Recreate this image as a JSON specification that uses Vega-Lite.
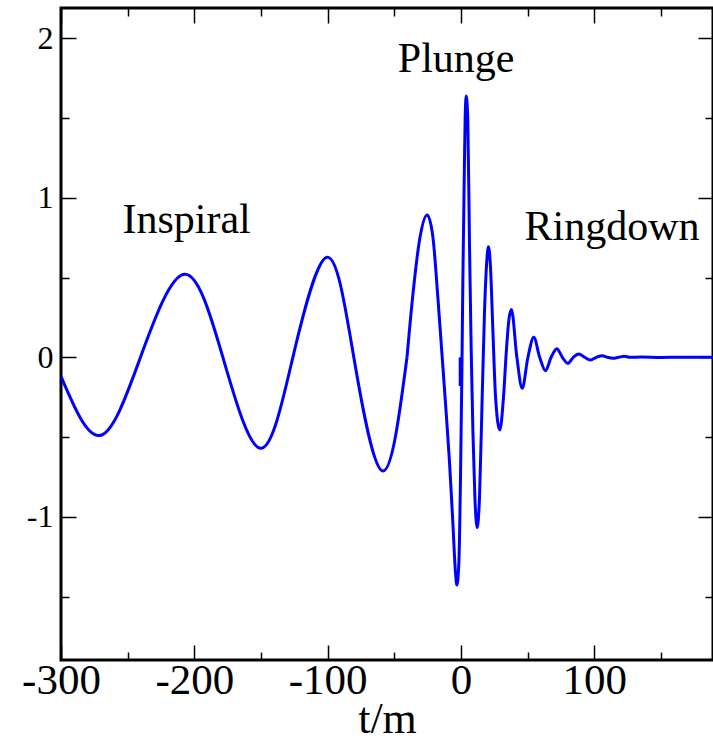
{
  "$schema": "https://vega.github.io/schema/vega-lite/v6.json",
  "width": 652,
  "height": 652,
  "autosize": {"type": "none"},
  "padding": {"left": 61, "top": 8, "right": 0, "bottom": 78},
  "background": "white",
  "config": {
    "view": {"stroke": "black", "strokeWidth": 3},
    "axis": {
      "grid": false,
      "domain": false,
      "tickColor": "black",
      "tickWidth": 1.5,
      "labelFont": "Liberation Serif",
      "labelColor": "black",
      "titleFont": "Liberation Serif",
      "titleColor": "black",
      "titleFontWeight": "normal"
    }
  },
  "resolve": {"axis": {"x": "independent", "y": "independent"}},
  "layer": [
    {
      "data": {"values": [
        {"t": -300, "h": -0.12}, {"t": -270.6, "h": -0.49}, {"t": -240.4, "h": 0}, {"t": -207.4, "h": 0.52},
        {"t": -178.6, "h": 0}, {"t": -150.4, "h": -0.571}, {"t": -126.1, "h": 0}, {"t": -100.4, "h": 0.627},
        {"t": -80.4, "h": 0}, {"t": -58.6, "h": -0.713}, {"t": -40.5, "h": 0}
      ]},
      "mark": {"type": "line", "color": "#0000ff", "strokeWidth": 3, "interpolate": "natural", "clip": true},
      "encoding": {
        "x": {"field": "t", "type": "quantitative",
          "scale": {"domain": [-300, 189], "nice": false, "zero": false},
          "axis": {"orient": "bottom", "values": [-300, -200, -100, 0, 100], "tickSize": -15,
            "labelFontSize": 43, "labelPadding": 14, "labelFlush": false,
            "labelExpr": "datum.value < 0 ? '-' + abs(datum.value) : '' + datum.value",
            "title": "t/m", "titleFontSize": 44, "titleBaseline": "alphabetic", "titleY": 72}},
        "y": {"field": "h", "type": "quantitative",
          "scale": {"domain": [-1.898, 2.19], "nice": false, "zero": false},
          "axis": {"orient": "left", "values": [-1, 0, 1, 2], "tickSize": -15,
            "labelFontSize": 32, "labelPadding": 23, "labelFlush": false,
            "labelExpr": "datum.value < 0 ? '-' + abs(datum.value) : '' + datum.value",
            "title": null}}
      }
    },
    {
      "data": {"values": [
        {"t": -40.5, "h": 0},
        {"t": -36, "h": 0.4}, {"t": -31, "h": 0.74}, {"t": -25.4, "h": 0.892}, {"t": -21.1, "h": 0.756},
        {"t": -17.4, "h": 0.38}, {"t": -14.1, "h": 0}, {"t": -11.1, "h": -0.35}, {"t": -8.6, "h": -0.66},
        {"t": -6.1, "h": -1.04}, {"t": -4.1, "h": -1.354}, {"t": -3.1, "h": -1.428}, {"t": -1.6, "h": -1.29},
        {"t": -0.4, "h": -0.77}, {"t": 0.6, "h": -0.14}, {"t": 1.4, "h": 0.485}, {"t": 2.4, "h": 1.11},
        {"t": 3.1, "h": 1.49}, {"t": 3.9, "h": 1.638}, {"t": 5.1, "h": 1.49}, {"t": 6.4, "h": 0.69},
        {"t": 7.6, "h": 0.066}, {"t": 8.9, "h": -0.456}, {"t": 10.4, "h": -0.874}, {"t": 12.1, "h": -1.068},
        {"t": 13.9, "h": -0.874}, {"t": 15.9, "h": -0.247}, {"t": 17.6, "h": 0.276}, {"t": 19.4, "h": 0.61},
        {"t": 20.6, "h": 0.693}, {"t": 22.1, "h": 0.568}, {"t": 23.9, "h": 0.171}, {"t": 25.9, "h": -0.247},
        {"t": 29.1, "h": -0.456}, {"t": 31.9, "h": -0.247}, {"t": 33.9, "h": 0.025}, {"t": 35.9, "h": 0.234},
        {"t": 37.8, "h": 0.3}, {"t": 41.9, "h": 0}, {"t": 45.9, "h": -0.194}, {"t": 50.2, "h": 0},
        {"t": 54.6, "h": 0.125}, {"t": 59, "h": 0}, {"t": 63.4, "h": -0.084}, {"t": 67.6, "h": 0},
        {"t": 71.9, "h": 0.054}, {"t": 76, "h": 0}, {"t": 80.1, "h": -0.038}, {"t": 84.2, "h": 0},
        {"t": 88.4, "h": 0.021}, {"t": 92.7, "h": 0}, {"t": 97.1, "h": -0.017}, {"t": 101.5, "h": 0},
        {"t": 105.9, "h": 0.01}, {"t": 109.9, "h": 0}, {"t": 113.9, "h": -0.006}, {"t": 118.2, "h": 0},
        {"t": 122.6, "h": 0.006}, {"t": 126.5, "h": 0}, {"t": 135, "h": 0.002}, {"t": 150, "h": -0.001},
        {"t": 165, "h": 0.001}, {"t": 189, "h": 0}
      ]},
      "mark": {"type": "line", "color": "#0000ff", "strokeWidth": 3, "interpolate": "monotone", "clip": true},
      "encoding": {
        "x": {"field": "t", "type": "quantitative",
          "scale": {"domain": [-300, 189], "nice": false, "zero": false}, "axis": null},
        "y": {"field": "h", "type": "quantitative",
          "scale": {"domain": [-1.898, 2.19], "nice": false, "zero": false}, "axis": null}
      }
    },
    {
      "data": {"values": [{"t": -0.6, "h": 0}, {"t": -0.6, "h": -0.18}]},
      "mark": {"type": "line", "color": "#0000ff", "strokeWidth": 3, "clip": true},
      "encoding": {
        "x": {"field": "t", "type": "quantitative",
          "scale": {"domain": [-300, 189], "nice": false, "zero": false},
          "axis": {"orient": "bottom", "values": [-250, -150, -50, 50, 150], "tickSize": -8,
            "labels": false, "title": null}},
        "y": {"field": "h", "type": "quantitative",
          "scale": {"domain": [-1.898, 2.19], "nice": false, "zero": false},
          "axis": {"orient": "left", "values": [-1.5, -0.5, 0.5, 1.5], "tickSize": -8,
            "labels": false, "title": null}}
      }
    },
    {
      "data": {"values": [{"t": -253.9, "h": 0.779, "label": "Inspiral"}]},
      "mark": {"type": "text", "align": "left", "baseline": "alphabetic", "font": "Liberation Serif", "fontSize": 42, "color": "black"},
      "encoding": {
        "text": {"field": "label"},
        "x": {"field": "t", "type": "quantitative",
          "scale": {"domain": [-300, 189], "nice": false, "zero": false},
          "axis": {"orient": "top", "values": [-300, -200, -100, 0, 100], "tickSize": -15,
            "labels": false, "title": null}},
        "y": {"field": "h", "type": "quantitative",
          "scale": {"domain": [-1.898, 2.19], "nice": false, "zero": false},
          "axis": {"orient": "right", "values": [-1, 0, 1, 2], "tickSize": -15,
            "labels": false, "title": null}}
      }
    },
    {
      "data": {"values": [{"t": -47.4, "h": 1.79, "label": "Plunge"}]},
      "mark": {"type": "text", "align": "left", "baseline": "alphabetic", "font": "Liberation Serif", "fontSize": 42, "color": "black"},
      "encoding": {
        "text": {"field": "label"},
        "x": {"field": "t", "type": "quantitative",
          "scale": {"domain": [-300, 189], "nice": false, "zero": false},
          "axis": {"orient": "top", "values": [-250, -150, -50, 50, 150], "tickSize": -8,
            "labels": false, "title": null}},
        "y": {"field": "h", "type": "quantitative",
          "scale": {"domain": [-1.898, 2.19], "nice": false, "zero": false},
          "axis": {"orient": "right", "values": [-1.5, -0.5, 0.5, 1.5], "tickSize": -8,
            "labels": false, "title": null}}
      }
    },
    {
      "data": {"values": [{"t": 47.6, "h": 0.735, "label": "Ringdown"}]},
      "mark": {"type": "text", "align": "left", "baseline": "alphabetic", "font": "Liberation Serif", "fontSize": 42, "color": "black"},
      "encoding": {
        "text": {"field": "label"},
        "x": {"field": "t", "type": "quantitative",
          "scale": {"domain": [-300, 189], "nice": false, "zero": false}, "axis": null},
        "y": {"field": "h", "type": "quantitative",
          "scale": {"domain": [-1.898, 2.19], "nice": false, "zero": false}, "axis": null}
      }
    }
  ]
}
